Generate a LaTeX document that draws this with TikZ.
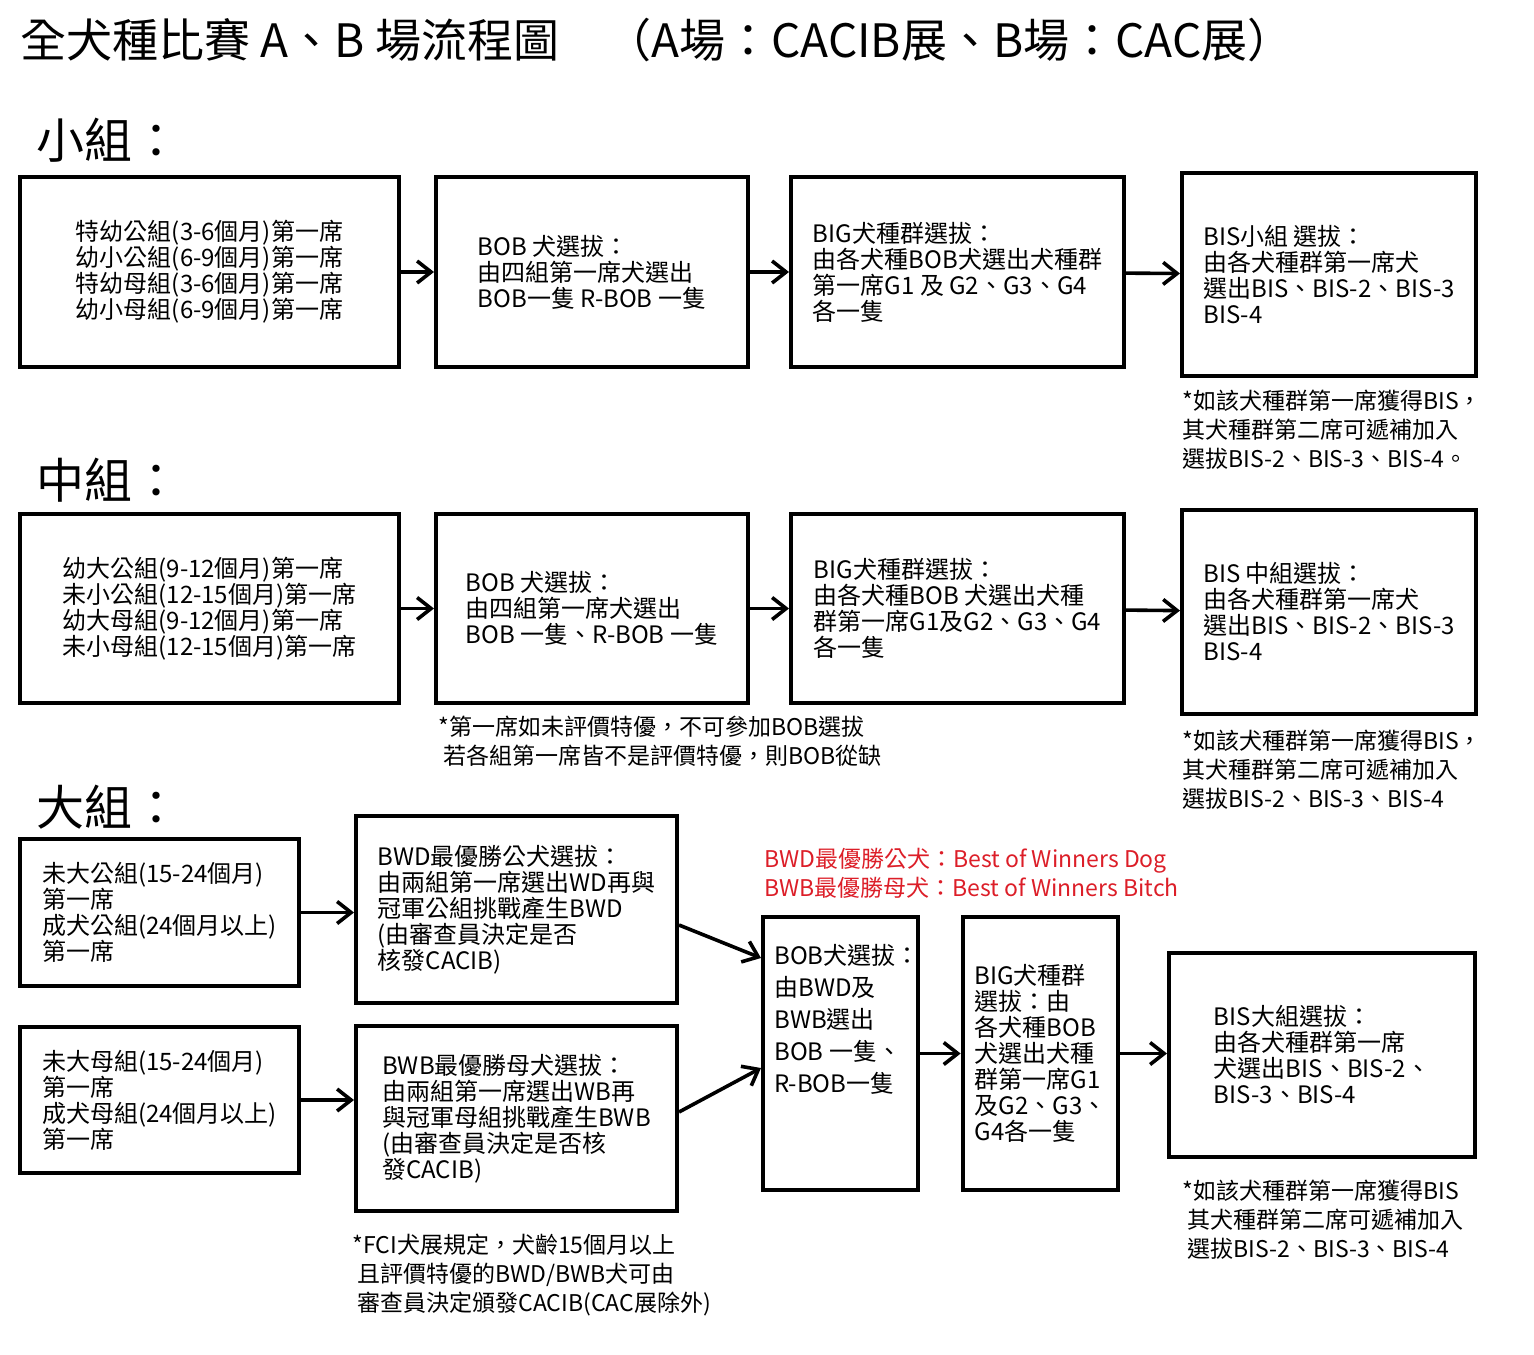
\documentclass[tikz,border=0pt]{standalone}
\usepackage{fontspec}
\setmainfont{Noto Sans CJK TC}
\usepackage{tikz}
\usetikzlibrary{arrows.meta}
\definecolor{NoteRed}{RGB}{220,30,40}
\tikzset{
  box/.style={draw,line width=2pt,align=left,inner sep=6pt,font=\fontsize{12}{13}\selectfont},
  nxt/.style={line width=1.8pt,-{Straight Barb[length=7pt,width=11pt]}},
  note/.style={anchor=north west,align=left,inner sep=0pt,font=\fontsize{11.5}{14.5}\selectfont},
  head/.style={anchor=north west,inner sep=0pt,font=\fontsize{24}{26}\selectfont}
}
\begin{document}
\begin{tikzpicture}[x=0.5pt,y=-0.5pt]
\useasboundingbox (0,0) rectangle (1534,1354);
\node[anchor=north west,inner sep=0pt,font=\fontsize{23}{25}\selectfont] (title) at (20,18)
  {全犬種比賽 A、B 場流程圖\quad（A場：CACIB展、B場：CAC展）};
\node[head] (h1) at (36,118) {小組：};
\node[head] (h2) at (36,458) {中組：};
\node[head] (h3) at (36,785) {大組：};
% row one
\node[box,minimum width=189.5pt,minimum height=95pt] (s1) at (209.5,272)
  {特幼公組(3-6個月)第一席\\幼小公組(6-9個月)第一席\\特幼母組(3-6個月)第一席\\幼小母組(6-9個月)第一席};
\node[box,minimum width=156pt,minimum height=95pt] (s2) at (592,272)
  {BOB 犬選拔：\\由四組第一席犬選出\\BOB一隻 R-BOB 一隻};
\node[box,minimum width=166.5pt,minimum height=95pt] (s3) at (957.5,272)
  {BIG犬種群選拔：\\由各犬種BOB犬選出犬種群\\第一席G1 及 G2、G3、G4\\各一隻};
\node[box,minimum width=147pt,minimum height=101.5pt] (s4) at (1329,274.5)
  {BIS小組 選拔：\\由各犬種群第一席犬\\選出BIS、BIS-2、BIS-3\\BIS-4};
\draw[nxt] (s1) -- (s2);
\draw[nxt] (s2) -- (s3);
\draw[nxt] (s3) -- (s4);
\node[note] (n1) at (1182,390) {*如該犬種群第一席獲得BIS，\\其犬種群第二席可遞補加入\\選拔BIS-2、BIS-3、BIS-4。};
% row two
\node[box,minimum width=189.5pt,minimum height=94.5pt] (m1) at (209.5,608.5)
  {幼大公組(9-12個月)第一席\\未小公組(12-15個月)第一席\\幼大母組(9-12個月)第一席\\未小母組(12-15個月)第一席};
\node[box,minimum width=156pt,minimum height=94.5pt] (m2) at (592,608.5)
  {BOB 犬選拔：\\由四組第一席犬選出\\BOB 一隻、R-BOB 一隻};
\node[box,minimum width=166.5pt,minimum height=94.5pt] (m3) at (957.5,608.5)
  {BIG犬種群選拔：\\由各犬種BOB 犬選出犬種\\群第一席G1及G2、G3、G4\\各一隻};
\node[box,minimum width=147pt,minimum height=102pt] (m4) at (1329,612)
  {BIS 中組選拔：\\由各犬種群第一席犬\\選出BIS、BIS-2、BIS-3\\BIS-4};
\draw[nxt] (m1) -- (m2);
\draw[nxt] (m2) -- (m3);
\draw[nxt] (m3) -- (m4);
\node[note] (n2) at (438,716) {*第一席如未評價特優，不可參加BOB選拔\\\ 若各組第一席皆不是評價特優，則BOB從缺};
\node[note] (n3) at (1182,730) {*如該犬種群第一席獲得BIS，\\其犬種群第二席可遞補加入\\選拔BIS-2、BIS-3、BIS-4};
% row three
\node[box,minimum width=139.5pt,minimum height=73.5pt] (a1) at (159.5,912.5)
  {未大公組(15-24個月)\\第一席\\成犬公組(24個月以上)\\第一席};
\node[box,minimum width=139.5pt,minimum height=73pt] (a2) at (159.5,1100)
  {未大母組(15-24個月)\\第一席\\成犬母組(24個月以上)\\第一席};
\node[box,minimum width=160.5pt,minimum height=93.5pt] (b1) at (516.5,909.5)
  {BWD最優勝公犬選拔：\\由兩組第一席選出WD再與\\冠軍公組挑戰產生BWD\\(由審查員決定是否\\核發CACIB)};
\node[box,minimum width=77.5pt,minimum height=136.5pt,inner sep=0pt] (c) at (840.5,1053.5) {};
\node[anchor=north west,align=left,inner sep=0pt,font=\fontsize{12}{16}\selectfont] (ct) at (774,944)
  {BOB犬選拔：\\由BWD及\\BWB選出\\BOB 一隻、\\R-BOB一隻};
\node[box,minimum width=160.5pt,minimum height=92.5pt] (b2) at (516.5,1118.5)
  {BWB最優勝母犬選拔：\\由兩組第一席選出WB再\\與冠軍母組挑戰產生BWB\\(由審查員決定是否核\\發CACIB)};
\node[box,minimum width=77.5pt,minimum height=136.5pt] (d) at (1040.5,1053.5)
  {BIG犬種群\\選拔：由\\各犬種BOB\\犬選出犬種\\群第一席G1\\及G2、G3、\\G4各一隻};
\node[box,minimum width=153pt,minimum height=102pt] (e) at (1322,1055)
  {BIS大組選拔：\\由各犬種群第一席\\犬選出BIS、BIS-2、\\BIS-3、BIS-4};
\draw[nxt] (a1) -- (b1.west |- a1);
\draw[nxt] (a2) -- (b2.west |- a2);
\draw[nxt] (b1.east |- 0,925) -- (c.north west |- 0,958);
\draw[nxt] (b2.east |- 0,1112) -- (c.north west |- 0,1068);
\draw[nxt] (c) -- (d);
\draw[nxt] (d) -- (e.west |- d);
\node[note,text=NoteRed] (red) at (764,848) {BWD最優勝公犬：Best of Winners Dog\\BWB最優勝母犬：Best of Winners Bitch};
\node[note] (n4) at (352,1234) {*FCI犬展規定，犬齡15個月以上\\\ 且評價特優的BWD/BWB犬可由\\\ 審查員決定頒發CACIB(CAC展除外)};
\node[note] (n5) at (1182,1180) {*如該犬種群第一席獲得BIS\\\ 其犬種群第二席可遞補加入\\\ 選拔BIS-2、BIS-3、BIS-4};
\end{tikzpicture}
\end{document}
